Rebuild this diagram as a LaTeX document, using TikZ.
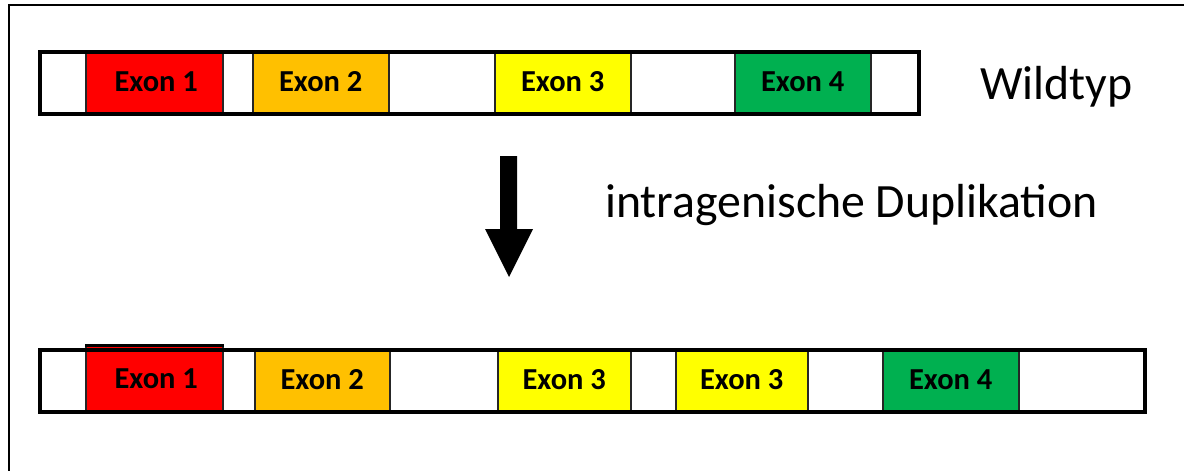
\documentclass[tikz,border=0pt]{standalone}
\usepackage{fontspec}
\setmainfont{Carlito}
\definecolor{exred}{HTML}{FF0000}
\definecolor{exorange}{HTML}{FFC000}
\definecolor{exyellow}{HTML}{FFFF00}
\definecolor{exgreen}{HTML}{00B050}
\tikzset{
  exon/.style={draw=black!85, line width=1.5pt, minimum height=62pt, inner sep=0pt, anchor=north west,
     font=\fontsize{30.5}{32}\selectfont\bfseries},
  barline/.style={draw=black, line width=4pt},
  bigtext/.style={font=\fontsize{47.8}{50}\selectfont, anchor=base west, inner sep=0pt},
}
\begin{document}
\begin{tikzpicture}[x=1pt,y=-1pt]
\useasboundingbox (0,0) rectangle (1184,471);
\fill[white] (0,0) rectangle (1184,471);
% frame
\draw[line width=2pt] (9,471) -- (9,5) -- (1184,5);
% top bar (Wildtyp)
\node[exon, fill=exred, minimum width=137pt] (t1) at (85,50) {\hspace*{4pt}Exon 1};
\node[exon, fill=exorange, minimum width=136pt] (t2) at (252,50) {Exon 2};
\node[exon, fill=exyellow, minimum width=136pt] (t3) at (494,50) {Exon 3};
\node[exon, fill=exgreen, minimum width=136pt] (t4) at (734,50) {Exon 4};
\node[barline, minimum width=879pt, minimum height=62pt, inner sep=0pt, anchor=north west] (tb) at (38,50) {};
% bottom bar
\node[exon, fill=exred, minimum width=137pt, minimum height=65pt] (b1) at (85,345) {\hspace*{4pt}Exon 1};
\node[exon, fill=exorange, minimum width=135pt] (b2) at (254,348) {Exon 2};
\node[exon, fill=exyellow, minimum width=133pt] (b3) at (497,348) {Exon 3};
\node[exon, fill=exyellow, minimum width=132pt] (b3b) at (675,348) {Exon 3};
\node[exon, fill=exgreen, minimum width=136pt] (b4) at (882,348) {Exon 4};
\node[barline, minimum width=1105pt, minimum height=62pt, inner sep=0pt, anchor=north west] (bb) at (38,348) {};
\draw[line width=3pt] (b1.north west) -- (b1.north east);
% labels
\node[bigtext] (wt) at (980,99) {Wildtyp};
\node[bigtext] (dup) at (605,217) {intragenische Duplikation};
% arrow
\fill[black] (500,156) -- (517,156) -- (517,229) -- (533,229) -- (509,277) -- (485,229) -- (500,229) -- cycle;
\end{tikzpicture}
\end{document}
